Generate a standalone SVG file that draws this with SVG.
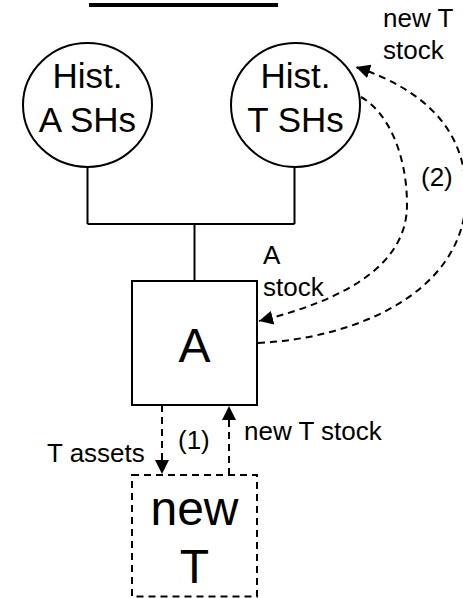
<svg xmlns="http://www.w3.org/2000/svg" width="463" height="598" viewBox="0 0 463 598">
  <style>
    .shape { fill: #ffffff; stroke: #000000; stroke-width: 2; }
    .dashed { stroke-dasharray: 7 5; }
    .line { fill: none; stroke: #000000; stroke-width: 2; }
    .big { font-family: "Liberation Sans", Arial, sans-serif; font-size: 35px; fill: #000000; text-anchor: middle; }
    .huge { font-family: "Liberation Sans", Arial, sans-serif; font-size: 48px; fill: #000000; text-anchor: middle; }
    .lbl { font-family: "Liberation Sans", Arial, sans-serif; font-size: 26px; fill: #000000; }
  </style>
  <defs>
    <marker id="arrow" viewBox="0 0 14 14" refX="14" refY="7" markerWidth="14" markerHeight="14" markerUnits="userSpaceOnUse" orient="auto">
      <path d="M0,0 L14,7 L0,14 z" fill="#000000"/>
    </marker>
  </defs>
  <rect width="463" height="598" fill="#ffffff"/>

  <g id="title-underline">
    <rect x="89" y="3" width="189" height="4" fill="#000000"/>
  </g>

  <g id="connectors">
    <path class="line" d="M87.5,167 V224 M294.5,167 V224 M87.5,224 H294.5 M194.5,224 V281"/>
    <line class="line dashed" x1="162" y1="405" x2="162" y2="474" marker-end="url(#arrow)"/>
    <line class="line dashed" x1="229" y1="475" x2="229" y2="406" marker-end="url(#arrow)"/>
    <path class="line dashed" d="M361,97 C385,110 407,150 407,205 C407,265 345,300 259,321" marker-end="url(#arrow)"/>
    <path class="line dashed" d="M258,343 C360,338 466,290 466,195 C466,130 425,90 356,67" marker-end="url(#arrow)"/>
    <text class="lbl" x="383" y="27">new T</text>
    <text class="lbl" x="383" y="59">stock</text>
    <text class="lbl" x="421" y="186">(2)</text>
    <text class="lbl" x="263" y="264">A</text>
    <text class="lbl" x="263" y="296">stock</text>
    <text class="lbl" x="47" y="462">T assets</text>
    <text class="lbl" x="178" y="449">(1)</text>
    <text class="lbl" x="244" y="440">new T stock</text>
  </g>

  <g id="hist-a-shs">
    <ellipse class="shape" cx="87.5" cy="105" rx="64.5" ry="62"/>
    <text class="big" x="87.5" y="88">Hist.</text>
    <text class="big" x="87.5" y="132">A SHs</text>
  </g>

  <g id="hist-t-shs">
    <ellipse class="shape" cx="295.5" cy="105" rx="64.5" ry="62"/>
    <text class="big" x="295.5" y="88">Hist.</text>
    <text class="big" x="295.5" y="132">T SHs</text>
  </g>

  <g id="node-a">
    <rect class="shape" x="132" y="281" width="125" height="124"/>
    <text class="huge" x="194.5" y="362">A</text>
  </g>

  <g id="node-new-t">
    <rect class="shape dashed" x="132" y="475" width="125" height="121.5"/>
    <text class="huge" x="194.5" y="525">new</text>
    <text class="huge" x="194.5" y="583">T</text>
  </g>
</svg>
